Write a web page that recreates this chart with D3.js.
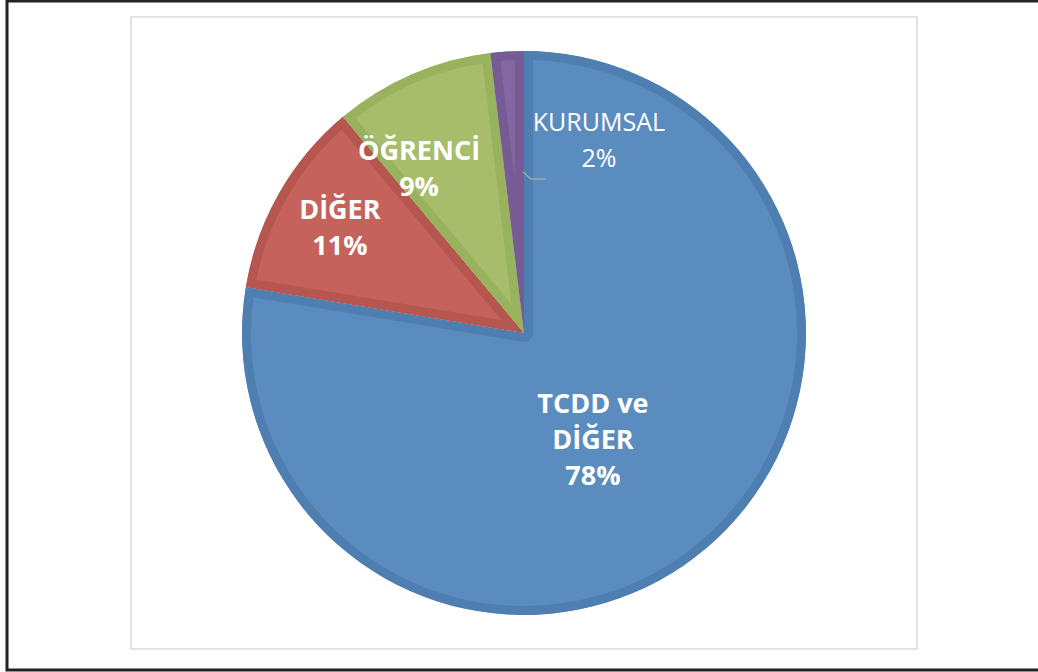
<!DOCTYPE html>
<html>
<head>
<meta charset="utf-8">
<script src="https://cdn.jsdelivr.net/npm/d3@7"></script>
<style>
  body { margin: 0; background: #fff; }
  svg { display: block; }
</style>
</head>
<body>
<div id="chart"></div>
<script>
// slice data
const categories = ["TCDD ve DİĞER", "DİĞER", "ÖĞRENCİ", "KURUMSAL"]
const labelLines = [["TCDD ve", "DİĞER"], ["DİĞER"], ["ÖĞRENCİ"], ["KURUMSAL"]]
const shares = [0.776, 0.113, 0.092, 0.019]
const fills = ["#5b8cbf", "#c5625b", "#a7bd6b", "#8466a0"]
const edges = ["#4f7eb1", "#b5564f", "#99b25d", "#775b94"]

const W = 1038, H = 672
const cx = 524, cy = 333, radius = 282

const svg = d3.select("#chart").append("svg")
  .attr("width", W).attr("height", H)

// outer frame (top, left, bottom)
svg.append("path")
  .attr("d", `M${W},1 H7 V670 H${W}`)
  .attr("fill", "none")
  .attr("stroke", "#222")
  .attr("stroke-width", 3)

// plot area border
svg.append("rect")
  .attr("x", 131).attr("y", 17)
  .attr("width", 786).attr("height", 632)
  .attr("fill", "#fff")
  .attr("stroke", "#e2e2e2")
  .attr("stroke-width", 2)

const data = categories.map((c, i) => ({ name: c, value: shares[i], i: i }))
const pie = d3.pie().value(d => d.value).sort(null)
const arcs = pie(data)
const arc = d3.arc().innerRadius(0).outerRadius(radius)

const g = svg.append("g").attr("transform", `translate(${cx},${cy})`)

const defs = svg.append("defs")
arcs.forEach((d, i) => {
  defs.append("clipPath").attr("id", "clip" + i)
    .append("path").attr("d", arc(d))
})

// slices with a darker inset band (bevel look)
g.selectAll("path.slice")
  .data(arcs)
  .join("path")
  .attr("class", "slice")
  .attr("d", arc)
  .attr("clip-path", (d, i) => `url(#clip${i})`)
  .attr("fill", (d, i) => fills[i])
  .attr("stroke", (d, i) => edges[i])
  .attr("stroke-width", 18)
  .attr("stroke-linejoin", "round")

// label placement: radius and angle tweak per slice
const labelR = [127, 212, 195, 207]
const angleShift = [0.13, 0, -0.16, 0.43]
const fmt = d3.format(".0%")

const labels = g.selectAll("text.lbl")
  .data(arcs)
  .join("text")
  .attr("class", "lbl")
  .attr("text-anchor", "middle")
  .attr("fill", "#fff")
  .style("font-family", "'Open Sans', sans-serif")
  .style("font-size", (d, i) => i === 3 ? "25px" : "27px")
  .style("font-weight", (d, i) => i === 3 ? "normal" : "bold")
  .each(function (d, i) {
    const a = (d.startAngle + d.endAngle) / 2 + angleShift[i]
    const x = Math.sin(a) * labelR[i]
    const y = -Math.cos(a) * labelR[i]
    const lines = labelLines[i].concat([fmt(d.data.value)])
    const lh = 36
    const y0 = y - (lines.length - 1) * lh / 2
    const t = d3.select(this)
    lines.forEach((s, k) => {
      t.append("tspan")
        .attr("x", x)
        .attr("y", y0 + k * lh)
        .attr("dy", "0.35em")
        .text(s)
    })
  })

// leader line for the small slice
const small = arcs[3]
const la = small.endAngle - 0.006
const lr = 161
const p0 = [Math.sin(la) * lr, -Math.cos(la) * lr]
g.append("polyline")
  .attr("points", [p0, [p0[0] + 8, p0[1] + 7], [p0[0] + 23, p0[1] + 7]].map(p => p.join(",")).join(" "))
  .attr("fill", "none")
  .attr("stroke", "#a6a6a6")
  .attr("stroke-width", 1.5)
</script>
</body>
</html>
